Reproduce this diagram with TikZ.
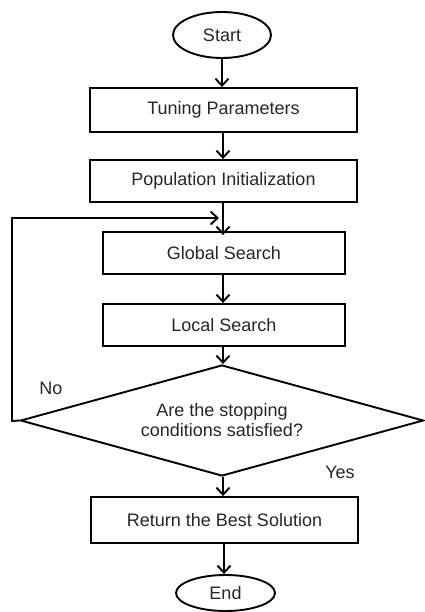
\documentclass[tikz,border=0pt]{standalone}
\usepackage{fontspec}
\setmainfont{Liberation Sans}
\usetikzlibrary{shapes.geometric,arrows.meta}
\begin{document}
\begin{tikzpicture}[x=1pt,y=-1pt,
  every node/.style={font=\fontsize{18}{21}\selectfont, text=black!85},
  proc/.style={draw, line width=1.9pt, rectangle, inner sep=0pt, anchor=center},
  term/.style={draw, line width=1.9pt, ellipse, inner sep=0pt},
  decision/.style={draw, line width=1.9pt, diamond, inner sep=0pt, align=center, aspect=3.63},
  flow/.style={line width=1.9pt, -{Straight Barb[length=7pt,width=13pt,line width=1.9pt]}},
  lbl/.style={inner sep=0pt}]
\useasboundingbox (0,0) rectangle (424,612);
\node[term, minimum width=98pt, minimum height=46pt] (start) at (222,35) {Start};
\node[proc, minimum width=267pt, minimum height=44pt] (tune) at (223.5,110) {Tuning Parameters};
\node[proc, minimum width=267pt, minimum height=42pt] (pop) at (223.5,181) {Population Initialization};
\node[proc, minimum width=242pt, minimum height=42pt] (glob) at (224,253) {Global Search};
\node[proc, minimum width=242pt, minimum height=42pt] (loc) at (224,325) {Local Search};
\node[decision, minimum width=403pt, minimum height=111pt] (dec) at (222,420.5) {Are the stopping\\[-1pt]conditions satisfied?};
\node[proc, minimum width=267pt, minimum height=46pt] (ret) at (224.5,520) {Return the Best Solution};
\node[term, minimum width=99pt, minimum height=36pt] (fin) at (225.5,593) {End};
\node[lbl] (no) at (51,388) {No};
\node[lbl] (yes) at (340,472) {Yes};
\coordinate (join) at (223,218);
\coordinate (corner) at (12,421);
\draw[flow] (start.south) -- (tune.north -| start.south);
\draw[flow] (tune.south -| 223,0) -- (pop.north -| 223,0);
\draw[flow] (pop.south -| 223,0) -- ([yshift=-4pt]glob.north -| 223,0);
\draw[flow] (glob.south -| 223,0) -- (loc.north -| 223,0);
\draw[flow] (loc.south -| 223,0) -- (dec.north -| 223,0);
\draw[flow] (dec.south -| 223,0) -- (ret.north -| 223,0);
\draw[flow] (ret.south -| 224,0) -- (fin.north -| 224,0);
\draw[flow] (dec.west) -- (corner) |- ([xshift=-4pt]join);
\end{tikzpicture}
\end{document}
